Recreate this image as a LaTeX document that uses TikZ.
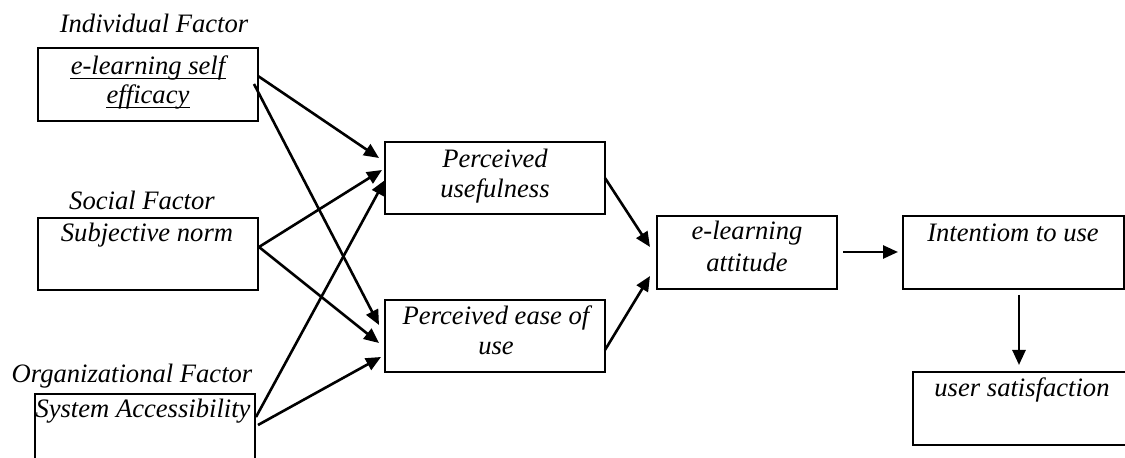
\documentclass[tikz,border=0pt]{standalone}
\usepackage{fontspec}
\setmainfont{Liberation Serif}
\usetikzlibrary{arrows.meta}
\begin{document}
\begin{tikzpicture}[x=0.5pt,y=-0.5pt,
  box/.style={draw, line width=0.8pt, rectangle, inner sep=0pt},
  txt/.style={anchor=base, inner sep=0pt, font=\fontsize{13.3}{15}\selectfont\itshape},
  uline/.style={line width=0.5pt},
  arr/.style={line width=1.3pt, -{Triangle[length=7.5pt,width=6.5pt]}}]
\useasboundingbox (0,0) rectangle (1125,458);
\clip (0,0) rectangle (1125,458);
% boxes
\node[box, minimum width=110pt, minimum height=36.5pt] (se) at (148,84.5) {};
\node[box, minimum width=110pt, minimum height=36pt] (sn) at (148,254) {};
\node[box, minimum width=110pt, minimum height=43pt] (sa) at (145,437) {};
\node[box, minimum width=110pt, minimum height=36pt] (pu) at (495,178) {};
\node[box, minimum width=110pt, minimum height=36pt] (pe) at (495,336) {};
\node[box, minimum width=90pt, minimum height=36.5pt] (at) at (747,252.5) {};
\node[box, minimum width=110.5pt, minimum height=36.5pt] (iu) at (1013.5,252.5) {};
\node[box, minimum width=113.5pt, minimum height=36.5pt] (us) at (1026.5,408.5) {};
% texts
\node[txt] (lif) at (154,33) {Individual Factor};
\node[txt] (tse1) at (148,75) {e-learning self};
\node[txt] (tse2) at (148,104) {efficacy};
\draw[uline] ([yshift=-1.6pt]tse1.base west) -- ([yshift=-1.6pt]tse1.base east);
\draw[uline] ([yshift=-1.6pt]tse2.base west) -- ([yshift=-1.6pt]tse2.base east);
\node[txt] (lsf) at (142,210) {Social Factor};
\node[txt] (tsn) at (147,242) {Subjective norm};
\node[txt] (lof) at (132,383) {Organizational Factor};
\node[txt] (tsa) at (143,418) {System Accessibility};
\node[txt] (tpu1) at (495,168) {Perceived};
\node[txt] (tpu2) at (495,198) {usefulness};
\node[txt] (tpe1) at (496,325) {Perceived ease of};
\node[txt] (tpe2) at (496,355) {use};
\node[txt] (tat1) at (747,240) {e-learning};
\node[txt] (tat2) at (747,272) {attitude};
\node[txt] (tiu) at (1013,242) {Intentiom to use};
\node[txt] (tus) at (1022,397) {user satisfaction};
% arrow end points
\coordinate (a1s) at (258,76);  \coordinate (a1e) at (379,158);
\coordinate (a2s) at (254,84);  \coordinate (a2e) at (379,325);
\coordinate (a3s) at (259,247); \coordinate (a3e) at (382,170);
\coordinate (a4e) at (379,343);
\coordinate (a5s) at (256,417); \coordinate (a5e) at (385,180);
\coordinate (a6s) at (258,425); \coordinate (a6e) at (381,357);
\coordinate (a7s) at (605,178); \coordinate (a7e) at (650,247);
\coordinate (a8s) at (605,350); \coordinate (a8e) at (650,276);
\coordinate (a9s) at (843,252); \coordinate (a9e) at (898,252);
\coordinate (a10s) at (1019,295); \coordinate (a10e) at (1019,365);
% connectors
\draw[arr] (a1s) -- (a1e);
\draw[arr] (a2s) -- (a2e);
\draw[arr] (a3s) -- (a3e);
\draw[arr] (a3s) -- (a4e);
\draw[arr] (a5s) -- (a5e);
\draw[arr] (a6s) -- (a6e);
\draw[arr] (a7s) -- (a7e);
\draw[arr] (a8s) -- (a8e);
\draw[arr] (a9s) -- (a9e);
\draw[arr] (a10s) -- (a10e);
\end{tikzpicture}
\end{document}
